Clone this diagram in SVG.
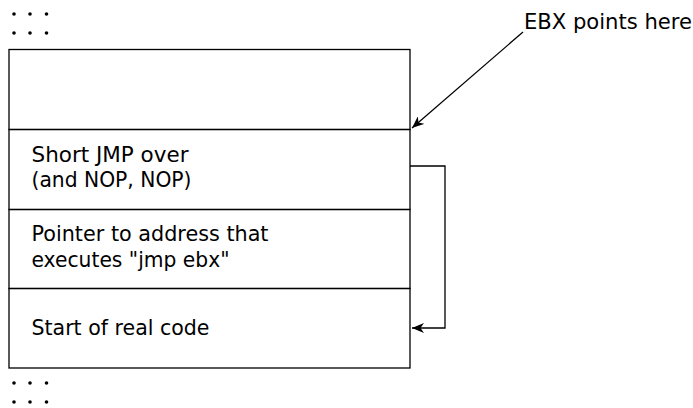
<svg xmlns="http://www.w3.org/2000/svg" width="693" height="408" viewBox="0 0 693 408">
<style>
.t{font-family:"DejaVu Sans","Liberation Sans",sans-serif;font-size:21px;fill:#000}
.b{fill:none;stroke:#000;stroke-width:1.3}
.c{fill:none;stroke:#000;stroke-width:1.3}
</style>
<defs>
<marker id="ah" viewBox="0 0 12 10" refX="12" refY="5" markerWidth="12" markerHeight="10" markerUnits="userSpaceOnUse" orient="auto">
<path d="M0,0 L12,5 L0,10 L3.5,5 Z" fill="#000"/>
</marker>
</defs>
<rect width="693" height="408" fill="#fff"/>
<g id="dots-top" fill="#000">
<circle cx="14" cy="14" r="1.8"/><circle cx="30" cy="14" r="1.8"/><circle cx="46.5" cy="14" r="1.8"/>
<circle cx="14" cy="33" r="1.8"/><circle cx="30" cy="33" r="1.8"/><circle cx="46.5" cy="33" r="1.8"/>
</g>
<g id="dots-bottom" fill="#000">
<circle cx="14" cy="383" r="1.8"/><circle cx="30" cy="383" r="1.8"/><circle cx="46.5" cy="383" r="1.8"/>
<circle cx="14" cy="402" r="1.8"/><circle cx="30" cy="402" r="1.8"/><circle cx="46.5" cy="402" r="1.8"/>
</g>
<g id="cell-empty"><rect class="b" x="9" y="49.5" width="401" height="80"/></g>
<g id="cell-jmp"><rect class="b" x="9" y="129.5" width="401" height="80"/>
<text class="t" x="31.5" y="161.7" textLength="157" lengthAdjust="spacingAndGlyphs">Short JMP over</text>
<text class="t" x="31.5" y="186.7" textLength="160" lengthAdjust="spacingAndGlyphs">(and NOP, NOP)</text></g>
<g id="cell-pointer"><rect class="b" x="9" y="209.5" width="401" height="79"/>
<text class="t" x="31.5" y="240.7" textLength="237" lengthAdjust="spacingAndGlyphs">Pointer to address that</text>
<text class="t" x="31.5" y="266.7" textLength="198" lengthAdjust="spacingAndGlyphs">executes "jmp ebx"</text></g>
<g id="cell-start"><rect class="b" x="9" y="288.5" width="401" height="79.5"/>
<text class="t" x="31.5" y="335" textLength="178" lengthAdjust="spacingAndGlyphs">Start of real code</text></g>
<g id="label-ebx"><text class="t" x="524" y="29.3" textLength="168" lengthAdjust="spacingAndGlyphs">EBX points here</text></g>
<g id="connectors">
<line class="c" x1="523" y1="32" x2="412" y2="128" marker-end="url(#ah)"/>
<polyline class="c" points="410,166 445,166 445,328 412,328" marker-end="url(#ah)"/>
</g>
</svg>
